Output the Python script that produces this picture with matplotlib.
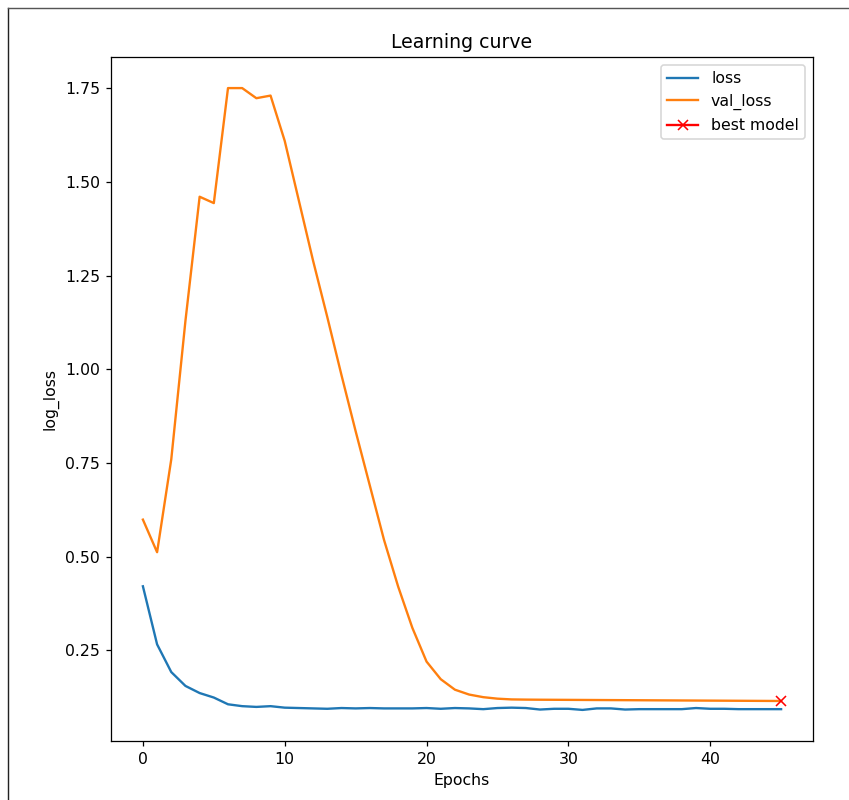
import matplotlib
matplotlib.use("Agg")
import matplotlib.pyplot as plt
from matplotlib.lines import Line2D
import numpy as np

epochs = list(range(46))
loss = [0.421, 0.266, 0.192, 0.155, 0.136, 0.124, 0.106, 0.101, 0.099, 0.101,
        0.097, 0.096, 0.095, 0.094, 0.096, 0.095, 0.096, 0.095, 0.095, 0.095,
        0.096, 0.094, 0.096, 0.095, 0.093, 0.096, 0.097, 0.096, 0.092, 0.094,
        0.094, 0.091, 0.095, 0.095, 0.092, 0.093, 0.093, 0.093, 0.093, 0.096,
        0.094, 0.094, 0.093, 0.093, 0.093, 0.093]
val_loss = [0.599, 0.512, 0.760, 1.130, 1.461, 1.444, 1.751, 1.751, 1.724, 1.731,
            1.610, 1.450, 1.290, 1.140, 0.985, 0.835, 0.690, 0.545, 0.420, 0.310,
            0.220, 0.173, 0.145, 0.132, 0.125, 0.121, 0.119, 0.1185, 0.1182, 0.1180,
            0.1178, 0.1176, 0.1174, 0.1172, 0.1170, 0.1168, 0.1166, 0.1164, 0.1162, 0.1160,
            0.1158, 0.1156, 0.1154, 0.1152, 0.1150, 0.1148]

DPI = 113
fig = plt.figure(figsize=(849 / DPI, 800 / DPI), dpi=DPI)
ax = fig.add_axes([111 / 849, 1 - 741 / 800, (813 - 111) / 849, (741 - 57) / 800])

ax.plot(epochs, loss, label="loss")
ax.plot(epochs, val_loss, label="val_loss")
best = int(np.argmin(val_loss))
ax.plot(epochs[best], val_loss[best], marker="x", color="r", label="best model")

ax.set_title("Learning curve")
ax.set_xlabel("Epochs")
ax.set_ylabel("log_loss")
ax.set_xticks([0, 10, 20, 30, 40])
ax.set_yticks([0.25, 0.50, 0.75, 1.00, 1.25, 1.50, 1.75])
ax.legend(loc="upper right")

# notebook-style frame around the figure (left and top edges visible)
fig.add_artist(Line2D([7.5 / 849, 7.5 / 849], [0, 1 - 7.5 / 800], transform=fig.transFigure,
                      color="#222222", linewidth=0.9))
fig.add_artist(Line2D([7.5 / 849, 1], [1 - 7.5 / 800, 1 - 7.5 / 800], transform=fig.transFigure,
                      color="#555555", linewidth=0.9))

fig.savefig("out.png", dpi=DPI)
